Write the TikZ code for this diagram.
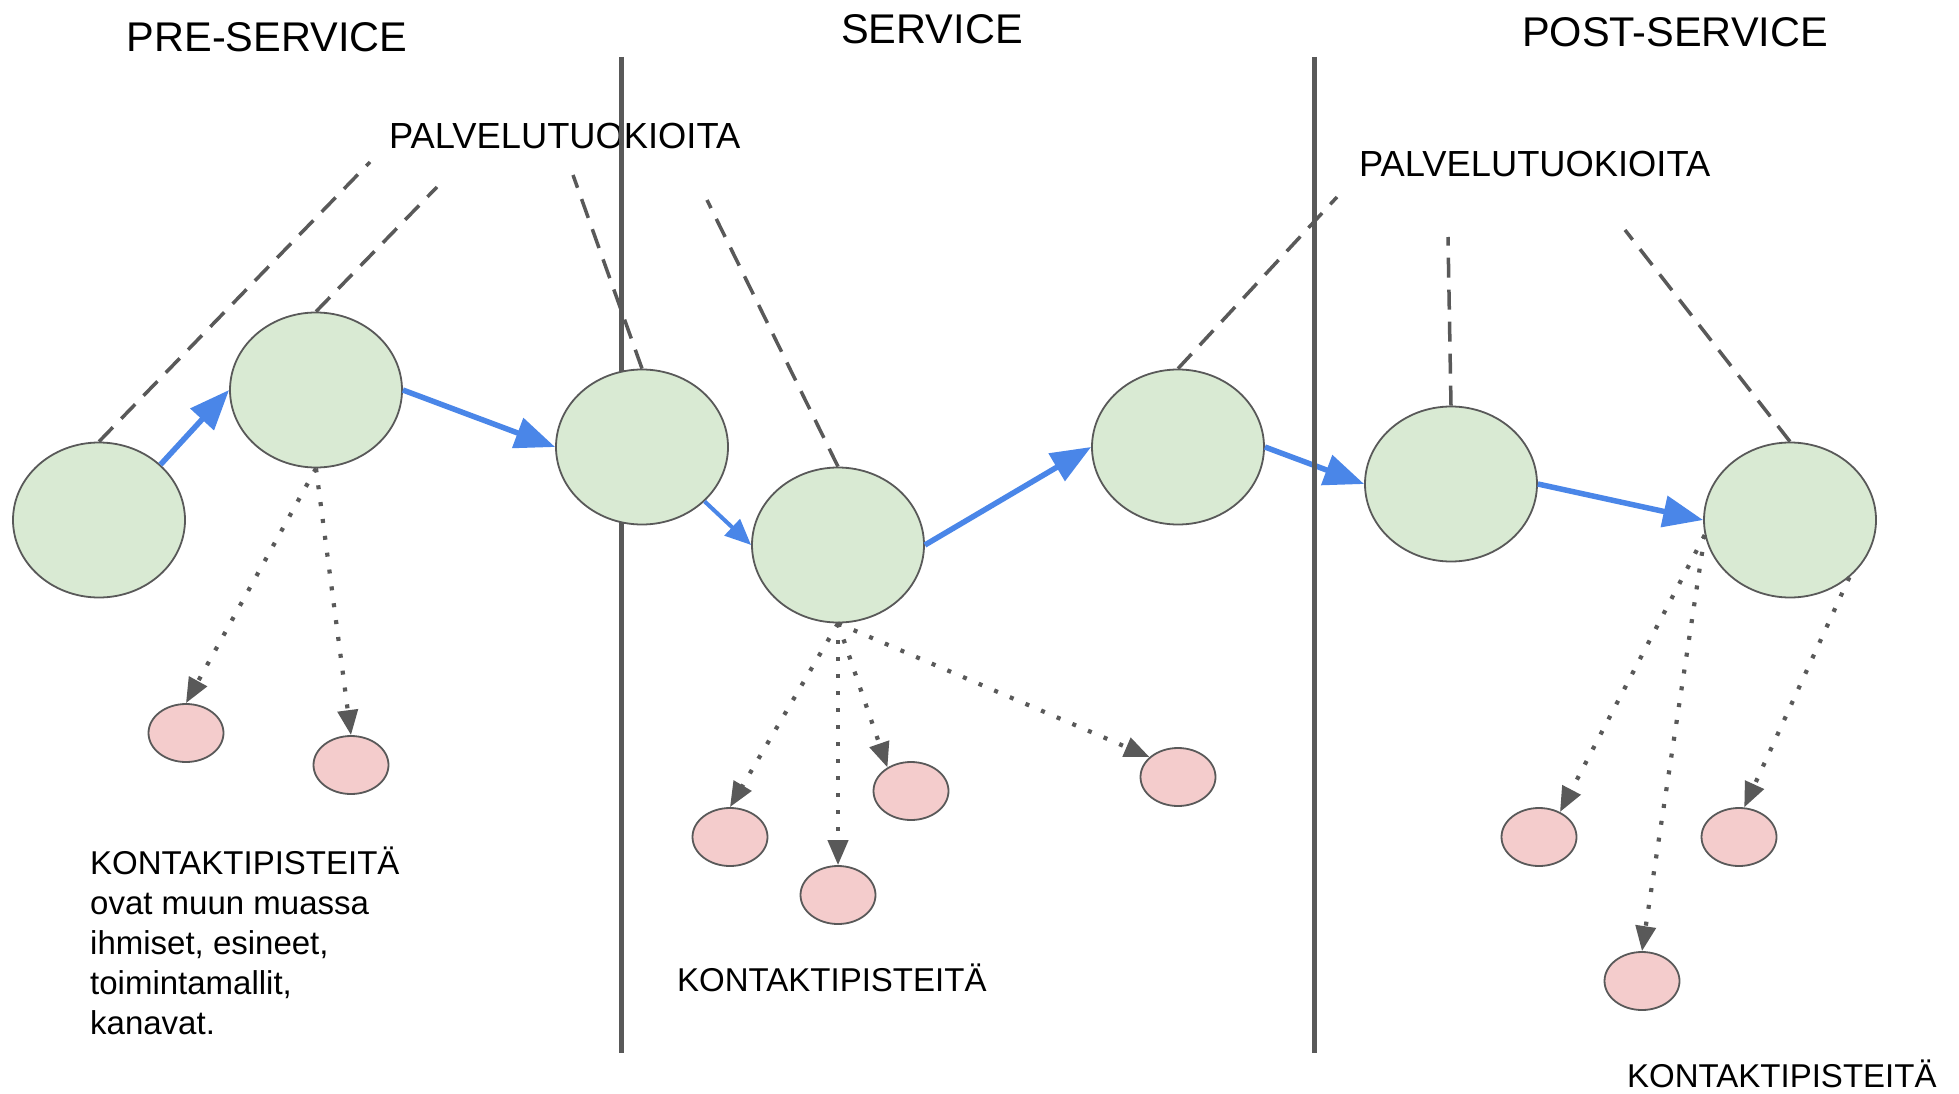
\documentclass[tikz,border=0pt]{standalone}
\usepackage{fontspec}
\setmainfont{Liberation Sans}
\usetikzlibrary{arrows.meta,shapes.geometric}
\definecolor{stepgreen}{HTML}{D9EAD3}
\definecolor{touchpink}{HTML}{F4CCCC}
\definecolor{edgegray}{HTML}{595959}
\definecolor{flowblue}{HTML}{4A86E8}
\begin{document}
\begin{tikzpicture}[x=1pt,y=-1pt,
  stage/.style={ellipse, draw=edgegray, fill=stepgreen, line width=1.8pt,
    minimum width=172pt, minimum height=155pt, inner sep=0pt},
  touch/.style={ellipse, draw=edgegray, fill=touchpink, line width=1.8pt,
    minimum width=75pt, minimum height=58pt, inner sep=0pt},
  flow/.style={draw=flowblue, line width=5.5pt, -{Triangle[length=40pt,width=31pt]}},
  flowthin/.style={draw=flowblue, line width=4pt, -{Triangle[length=26pt,width=22pt]}},
  guide/.style={draw=edgegray, line width=3.5pt, dash pattern=on 20pt off 12pt},
  dotlink/.style={draw=edgegray, line width=4.2pt, dash pattern=on 4pt off 13pt,
    -{Triangle[length=25pt,width=20pt]}},
  divider/.style={draw=edgegray, line width=5pt},
  phase/.style={anchor=base, inner sep=0pt, font=\fontsize{41.5}{48}\selectfont},
  tag/.style={anchor=base west, inner sep=0pt, font=\fontsize{36.3}{42}\selectfont},
  note/.style={anchor=base west, inner sep=0pt, font=\fontsize{33}{40}\selectfont},
]
\useasboundingbox[fill=white] (0,0) rectangle (1959,1094);

% phase dividers
\coordinate (v1a) at (621,57);  \coordinate (v1b) at (621,1053);
\coordinate (v2a) at (1314,57); \coordinate (v2b) at (1314,1053);

% headings and labels
\node[phase] (h1) at (267,52) {PRE-SERVICE};
\node[phase] (h2) at (932,44) {SERVICE};
\node[phase] (h3) at (1675,47) {POST-SERVICE};
\node[tag] (l1) at (389,149) {PALVELUTUOKIOITA};
\node[tag] (l2) at (1359,177) {PALVELUTUOKIOITA};
\node[note, anchor=north west, align=left] (k1) at (90,847)
  {KONTAKTIPISTEITÄ\\ovat muun muassa\\ihmiset, esineet,\\toimintamallit,\\kanavat.};
\node[note] (k2) at (677,991) {KONTAKTIPISTEITÄ};
\node[note] (k3) at (1627,1087) {KONTAKTIPISTEITÄ};

% node positions
\path (99,520) coordinate (c1) (316,390) coordinate (c2) (642,447) coordinate (c3)
      (838,545) coordinate (c4) (1178,447) coordinate (c5) (1451,484) coordinate (c6)
      (1790,520) coordinate (c7);

% leader lines to the labels
\coordinate (t1) at (370,162);
\coordinate (t2) at (437,187);
\coordinate (t3) at (573,175);
\coordinate (t4) at (707,200);
\coordinate (t5) at (1337,197);
\coordinate (t6) at (1448,237);
\coordinate (t7) at (1625,230);

% service moments (placed first so connectors can refer to them)
\node[stage] (g1) at (c1) {};
\node[stage] (g2) at (c2) {};
\node[stage] (g5) at (c5) {};
\node[stage] (g6) at (c6) {};
\node[stage] (g7) at (c7) {};
\node[stage] (g4) at (c4) {};

\draw[guide] (g1.north) -- (t1);
\draw[guide] (g2.north) -- (t2);
\draw[guide] (g4.north) -- (t4);
\draw[guide] (g5.north) -- (t5);
\draw[guide] (g6.north) -- (t6);
\draw[guide] (g7.north) -- (t7);

% customer journey
\draw[flow] (g1.42) -- (g2.west);
\draw[flow] (g4.east) -- (g5.west);
\draw[flow] (g5.east) -- (g6.west);
\draw[flow] (g6.east) -- (g7.west);

\draw[divider] (v1a) -- (v1b);
\draw[divider] (v2a) -- (v2b);

% the moment sitting on the first divider
\node[stage] (g3) at (c3) {};
\draw[guide] (g3.north) -- (t3);
\draw[flow] (g2.east) -- (g3.west);
\draw[flowthin] (g3.-41) -- (g4.west);

% touchpoints
\node[touch] (p1) at (186,733) {};
\node[touch] (p2) at (351,765) {};
\node[touch] (p3) at (730,837) {};
\node[touch] (p4) at (838,895) {};
\node[touch] (p5) at (911,791) {};
\node[touch] (p6) at (1178,777) {};
\node[touch] (p7) at (1539,837) {};
\node[touch] (p8) at (1739,837) {};
\node[touch] (p9) at (1642,981) {};

% touchpoint links
\draw[dotlink] (g2.south) -- (p1.north);
\draw[dotlink] (g2.south) -- (p2.north);
\draw[dotlink] (g4.south) -- (p3.north);
\draw[dotlink] (g4.south) -- (p4.north);
\draw[dotlink] (g4.south) -- (p5.135);
\draw[dotlink] (g4.south) -- (p6.145);
\draw[dotlink] (g7.190) -- (p7.50);
\draw[dotlink] (g7.190) -- (p9.north);
\draw[dotlink] (g7.-44) -- (p8.80);
\end{tikzpicture}
\end{document}
